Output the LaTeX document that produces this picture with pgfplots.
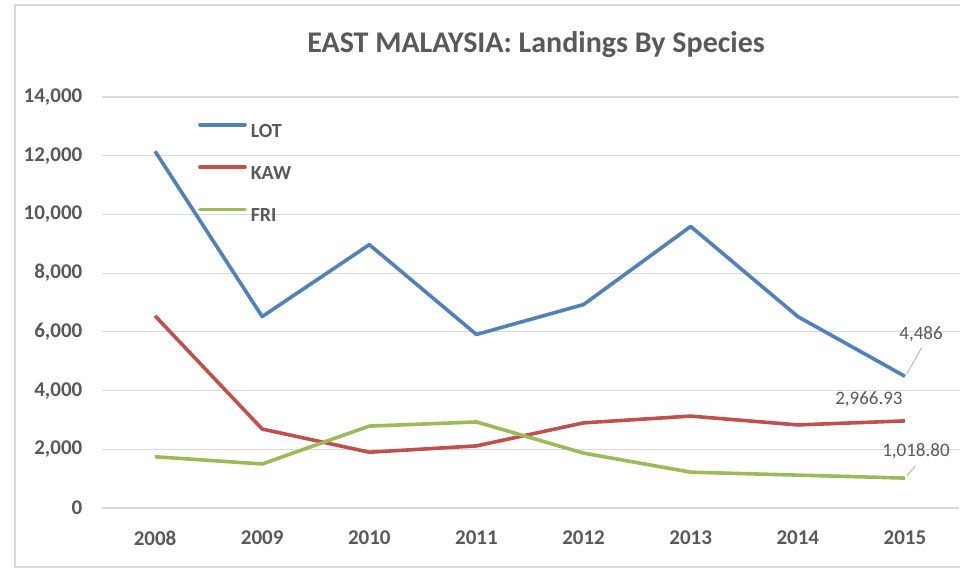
\documentclass[border=0pt]{standalone}
\usepackage{fontspec}
\setmainfont{Carlito}
\usepackage{pgfplots}
\pgfplotsset{compat=1.18}
\definecolor{lotc}{HTML}{4F81BD}
\definecolor{kawc}{HTML}{C0504D}
\definecolor{fric}{HTML}{9BBB59}
\definecolor{txt}{HTML}{595959}
\definecolor{grd}{HTML}{D9D9D9}
\begin{document}
\begin{tikzpicture}[x=1pt,y=1pt]
\useasboundingbox (0,0) rectangle (960,572);
\fill[white] (0,0) rectangle (960,572);
\draw[grd, line width=1.2pt] (15,5) rectangle (975,567);
\node[anchor=base, text=txt, font=\fontsize{30}{30}\selectfont\bfseries] at (536,519.3) {EAST MALAYSIA: Landings By Species};
\begin{axis}[
  at={(101.5pt,64pt)}, anchor=south west,
  scale only axis, width=857pt, height=411pt,
  xmin=2007.5, xmax=2015.5, ymin=0, ymax=14000,
  scaled y ticks=false,
  xtick={2008,2009,2010,2011,2012,2013,2014,2015},
  xticklabels={2008,2009,2010,2011,2012,2013,2014,2015},
  ytick={0,2000,4000,6000,8000,10000,12000,14000},
  yticklabels={0,{2,000},{4,000},{6,000},{8,000},{10,000},{12,000},{14,000}},
  axis line style={draw=none},
  major tick length=0pt, tick style={draw=none},
  ymajorgrids, grid style={grd, line width=1.2pt},
  ticklabel style={font=\fontsize{21}{21}\selectfont\bfseries, text=txt, inner sep=0pt},
  yticklabel style={anchor=east, xshift=-19pt},
  xticklabel style={anchor=north, yshift=-23pt},
  clip=false,
  legend style={draw=none, fill=none, inner sep=0pt, at={(0.1126,0.9372)}, anchor=north west,
    row sep=26.8pt, column sep=4pt, nodes={inner sep=0pt, text=txt, font=\fontsize{20}{20}\selectfont\bfseries}},
  legend cell align=left,
  legend image code/.code={\draw[#1, line cap=round] (0pt,6.4pt) -- (45pt,6.4pt);},
]
\addplot[lotc, line width=3.6pt, line join=round] coordinates {
  (2008,12150) (2009,6520) (2010,8970) (2011,5910) (2012,6930) (2013,9590) (2014,6520) (2015,4486)};
\addlegendentry{LOT}
\addplot[kawc, line width=3.6pt, line join=round] coordinates {
  (2008,6545) (2009,2690) (2010,1900) (2011,2115) (2012,2900) (2013,3130) (2014,2830) (2015,2966.93)};
\addlegendentry{KAW}
\addplot[fric, line width=3.6pt, line join=round] coordinates {
  (2008,1745) (2009,1500) (2010,2790) (2011,2930) (2012,1870) (2013,1220) (2014,1120) (2015,1018.80)};
\addlegendentry{FRI}
\draw[grd!80!black, line width=0.8pt] (axis cs:2015.016,4560) -- (axis cs:2015.156,5460);
\draw[grd!80!black, line width=0.8pt] (axis cs:2015.02,1100) -- (axis cs:2015.1,1441);
\node[text=txt, font=\fontsize{19}{19}\selectfont, inner sep=0pt] at (axis cs:2015.15,5927) {4,486};
\node[text=txt, font=\fontsize{19}{19}\selectfont, inner sep=0pt] at (axis cs:2014.664,3713) {2,966.93};
\node[text=txt, font=\fontsize{19}{19}\selectfont, inner sep=0pt] at (axis cs:2015.103,1918) {1,018.80};
\end{axis}
\end{tikzpicture}
\end{document}
